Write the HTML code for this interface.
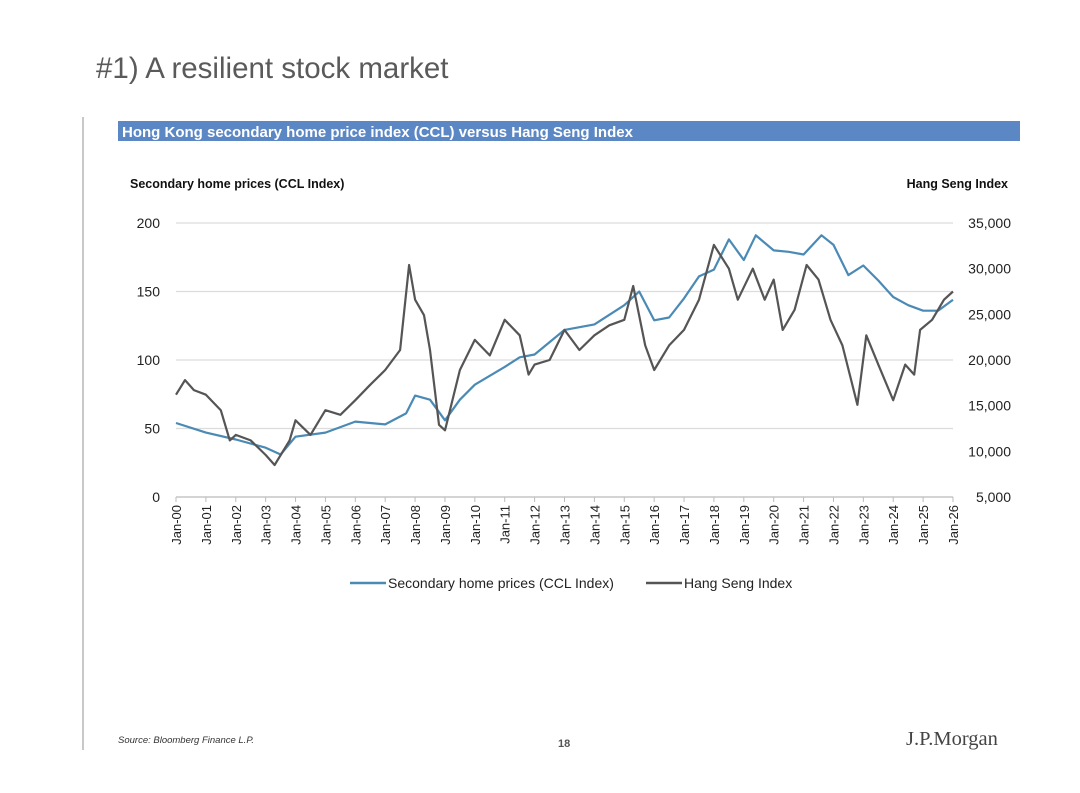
<!DOCTYPE html>
<html><head><meta charset="utf-8"><style>
body{margin:0;width:1080px;height:788px;background:#fff;overflow:hidden;font-family:"Liberation Sans",sans-serif;}
</style></head><body>
<svg width="1080" height="788" xmlns="http://www.w3.org/2000/svg">
<text x="96" y="78" font-size="29.5" fill="#5a5a5a">#1) A resilient stock market</text>
<line x1="83" y1="117" x2="83" y2="750" stroke="#c8c8c8" stroke-width="2"/>
<rect x="118" y="121" width="902" height="20" fill="#5b87c5"/>
<text x="122" y="137" font-size="15" font-weight="bold" fill="#fff">Hong Kong secondary home price index (CCL) versus Hang Seng Index</text>
<text x="130" y="188" font-size="12.5" font-weight="bold" fill="#111">Secondary home prices (CCL Index)</text>
<text x="1008" y="188" font-size="12.5" font-weight="bold" fill="#111" text-anchor="end">Hang Seng Index</text>
<g id="grid"></g><g id="axes"></g><g id="series"></g>
<g>
<line x1="350" y1="583" x2="386" y2="583" stroke="#4a8ab5" stroke-width="2.5"/>
<text x="388" y="588" font-size="14" fill="#222">Secondary home prices (CCL Index)</text>
<line x1="646" y1="583" x2="682" y2="583" stroke="#555" stroke-width="2.5"/>
<text x="684" y="588" font-size="14" fill="#222">Hang Seng Index</text>
</g>
<text x="118" y="743" font-size="9.5" font-style="italic" fill="#333">Source: Bloomberg Finance L.P.</text>
<text x="558" y="747" font-size="11" font-weight="bold" fill="#555">18</text>
<text x="906" y="745" font-size="20.5" font-family="Liberation Serif,serif" fill="#444">J.P.Morgan</text>
</svg>
<script>
const years=[2000,2001,2002,2003,2004,2005,2006,2007,2008,2009,2010,2011,2012,2013,2014,2015,2016,2017,2018,2019,2020,2021,2022,2023,2024,2025,2026];
const leftTicks=[0,50,100,150,200];
const rightTicks=[5000,10000,15000,20000,25000,30000,35000];
const cclT=[2000,2001,2002,2003,2003.5,2004,2005,2006,2007,2007.7,2008,2008.5,2009,2009.5,2010,2011,2011.5,2012,2013,2014,2015,2015.5,2016,2016.5,2017,2017.5,2018,2018.5,2019,2019.4,2020,2020.5,2021,2021.6,2022,2022.5,2023,2023.5,2024,2024.5,2025,2025.5,2026];
const cclV=[54,47,42,36,31,44,47,55,53,61,74,71,56,71,82,95,102,104,122,126,140,150,129,131,145,161,166,188,173,191,180,179,177,191,184,162,169,158,146,140,136,136,144];
const hsiT=[2000,2000.3,2000.6,2001,2001.5,2001.8,2002,2002.5,2003,2003.3,2003.8,2004,2004.5,2005,2005.5,2006,2006.5,2007,2007.5,2007.8,2008,2008.3,2008.5,2008.8,2009,2009.5,2010,2010.5,2011,2011.5,2011.8,2012,2012.5,2013,2013.5,2014,2014.5,2015,2015.3,2015.7,2016,2016.5,2017,2017.5,2018,2018.5,2018.8,2019.3,2019.7,2020,2020.3,2020.7,2021.1,2021.5,2021.9,2022.3,2022.8,2023.1,2023.5,2024,2024.4,2024.7,2024.9,2025.3,2025.7,2026];
const hsiV=[16200,17800,16700,16200,14500,11200,11800,11200,9600,8500,11200,13400,11800,14500,14000,15600,17300,18900,21100,30400,26600,24900,21100,12900,12300,18900,22200,20500,24400,22700,18400,19500,20000,23300,21100,22700,23800,24400,28100,21600,18900,21600,23300,26600,32600,30000,26600,30000,26600,28800,23300,25500,30400,28800,24400,21600,15100,22700,19500,15600,19500,18400,23300,24400,26600,27500];
const X0=176,X1=953,YT=223,YB=497;
const xs=t=>X0+(t-2000)/26*(X1-X0);
const yl=v=>YB-v/200*(YB-YT);
const yr=v=>YB-(v-5000)/30000*(YB-YT);
const NS="http://www.w3.org/2000/svg";
function mk(tag,attrs,parent,txt){const e=document.createElementNS(NS,tag);for(const k in attrs)e.setAttribute(k,attrs[k]);if(txt!==undefined)e.textContent=txt;document.getElementById(parent).appendChild(e);return e;}
leftTicks.forEach(v=>{
 const g=mk('line',{x1:X0,x2:X1,y1:yl(v),y2:yl(v),stroke:v===0?'#bbb':'#dcdcdc','stroke-width':1.2},'grid');
 
 
 const t=mk('text',{x:160,y:yl(v)+5,'font-size':14,'text-anchor':'end',fill:'#222'},'axes',String(v));
 
 
});
rightTicks.forEach(v=>{
 const t=mk('text',{x:1011,y:yr(v)+5,'font-size':14,'text-anchor':'end',fill:'#222'},'axes',v.toLocaleString('en-US'));
 
 
});
years.forEach(y=>{
 const x=xs(y);
 const tk=mk('line',{x1:x,x2:x,y1:YB,y2:YB+5,stroke:'#bbb'},'axes');
 
 
 const lab='Jan-'+String(y%100).padStart(2,'0');
 const t=mk('text',{x:x+5,y:YB+8,'font-size':13,'text-anchor':'end',fill:'#222',transform:`rotate(-90 ${x+5} ${YB+8})`},'axes',lab);
 
 
});
const cclPath=cclT.map((t,i)=>(i?'L':'M')+xs(t).toFixed(1)+','+yl(cclV[i]).toFixed(1)).join('');
const hsiPath=hsiT.map((t,i)=>(i?'L':'M')+xs(t).toFixed(1)+','+yr(hsiV[i]).toFixed(1)).join('');
const p1=mk('path',{d:cclPath,fill:'none',stroke:'#4a8ab5','stroke-width':2.2,'stroke-linejoin':'round'},'series');


const p2=mk('path',{d:hsiPath,fill:'none',stroke:'#555','stroke-width':2.2,'stroke-linejoin':'round'},'series');


</script>
</body></html>
